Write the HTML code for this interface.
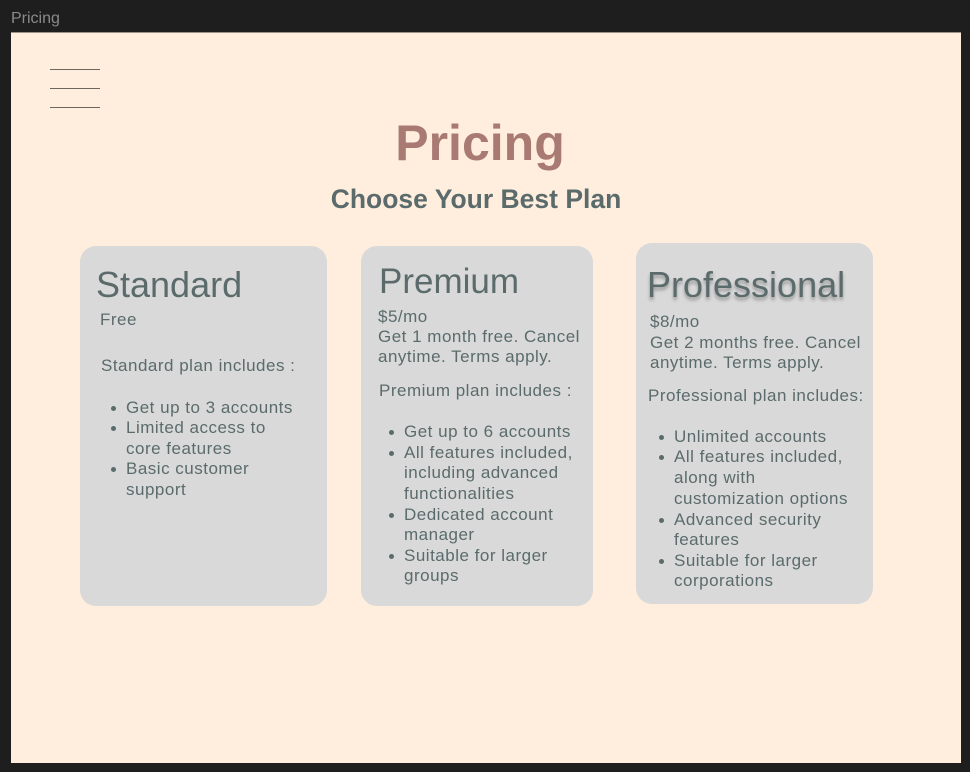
<!DOCTYPE html>
<html><head><meta charset="utf-8"><style>
*{margin:0;padding:0;box-sizing:border-box}
body{width:970px;height:772px;background:#1e1e1e;position:relative;overflow:hidden;font-family:"Liberation Sans",sans-serif;color:#5b6b6b}
.page{position:absolute;left:11px;top:32px;width:950px;height:731px;background:#ffeedd;border-top:1px solid #9a9288}
.card{position:absolute;background:#d9d9d9;border-radius:16px}
.t{position:absolute;white-space:nowrap;font-size:17px;line-height:20px;letter-spacing:0.5px}
.dot{position:absolute;width:5px;height:5px;border-radius:50%;background:#5b6b6b}
.ham{position:absolute;left:50px;width:50px;height:1px;background:#6e6760}
</style></head><body>
<div class="t" style="left:11px;top:9px;color:#8a8a8a;font-size:16px;letter-spacing:0">Pricing</div>
<div class="page"></div>
<div>
<div class="ham" style="top:69px"></div><div class="ham" style="top:88px"></div><div class="ham" style="top:107px"></div>
</div>
<div class="t" style="left:0;width:960px;text-align:center;top:113px;font-size:50px;line-height:60px;font-weight:bold;color:#a97a72;letter-spacing:0">Pricing</div>
<div class="t" style="left:0;width:952px;text-align:center;top:184px;font-size:26.5px;line-height:30px;font-weight:bold;color:#5b6b6b;letter-spacing:0">Choose Your Best Plan</div>

<div class="card" style="left:80px;top:246px;width:247px;height:360px"></div>
<div class="card" style="left:361px;top:246px;width:232px;height:360px"></div>
<div class="card" style="left:636px;top:243px;width:237px;height:361px"></div>

<div class="t" style="left:96px;top:264px;font-size:36px;line-height:42px;letter-spacing:0">Standard</div>
<div class="t" style="left:100px;top:310px">Free</div>
<div class="t" style="left:101px;top:356px">Standard plan includes :</div>
<div>
<div class="dot" style="left:111px;top:406px"></div><div class="t" style="left:126px;top:398px">Get up to 3 accounts</div>
<div class="dot" style="left:111px;top:426px"></div><div class="t" style="left:126px;top:418px">Limited access to</div>
<div class="t" style="left:126px;top:439px">core features</div>
<div class="dot" style="left:111px;top:467px"></div><div class="t" style="left:126px;top:459px">Basic customer</div>
<div class="t" style="left:126px;top:480px">support</div>
</div>

<div class="t" style="left:379px;top:261px;font-size:35px;line-height:42px;letter-spacing:0">Premium</div>
<div class="t" style="left:378px;top:307px">$5/mo</div>
<div class="t" style="left:378px;top:327px">Get 1 month free. Cancel</div>
<div class="t" style="left:378px;top:347px">anytime. Terms apply.</div>
<div class="t" style="left:379px;top:381px">Premium plan includes :</div>
<div>
<div class="dot" style="left:389px;top:430px"></div><div class="t" style="left:404px;top:422px">Get up to 6 accounts</div>
<div class="dot" style="left:389px;top:451px"></div><div class="t" style="left:404px;top:443px">All features included,</div>
<div class="t" style="left:404px;top:463px">including advanced</div>
<div class="t" style="left:404px;top:484px">functionalities</div>
<div class="dot" style="left:389px;top:513px"></div><div class="t" style="left:404px;top:505px">Dedicated account</div>
<div class="t" style="left:404px;top:525px">manager</div>
<div class="dot" style="left:389px;top:554px"></div><div class="t" style="left:404px;top:546px">Suitable for larger</div>
<div class="t" style="left:404px;top:566px">groups</div>
</div>

<div class="t" style="left:647px;top:264px;font-size:36px;line-height:42px;letter-spacing:0;text-shadow:0 3px 3px rgba(0,0,0,0.3)">Professional</div>
<div class="t" style="left:650px;top:312px">$8/mo</div>
<div class="t" style="left:650px;top:333px">Get 2 months free. Cancel</div>
<div class="t" style="left:650px;top:353px">anytime. Terms apply.</div>
<div class="t" style="left:648px;top:386px">Professional plan includes:</div>
<div>
<div class="dot" style="left:659px;top:435px"></div><div class="t" style="left:674px;top:427px">Unlimited accounts</div>
<div class="dot" style="left:659px;top:455px"></div><div class="t" style="left:674px;top:447px">All features included,</div>
<div class="t" style="left:674px;top:468px">along with</div>
<div class="t" style="left:674px;top:489px">customization options</div>
<div class="dot" style="left:659px;top:518px"></div><div class="t" style="left:674px;top:510px">Advanced security</div>
<div class="t" style="left:674px;top:530px">features</div>
<div class="dot" style="left:659px;top:559px"></div><div class="t" style="left:674px;top:551px">Suitable for larger</div>
<div class="t" style="left:674px;top:571px">corporations</div>
</div>
</body></html>
